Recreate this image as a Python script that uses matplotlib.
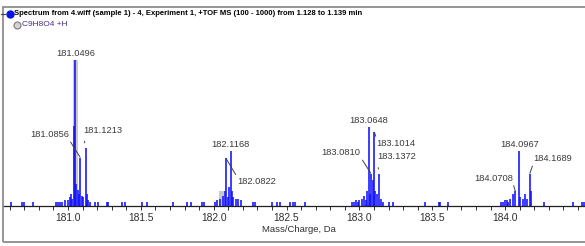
import matplotlib
matplotlib.use("Agg")
import matplotlib.pyplot as plt
from matplotlib.lines import Line2D
from matplotlib.patches import Rectangle

# ---------------- data ----------------
mz = [180.609, 180.684, 180.698, 180.760, 180.918, 180.932, 180.946, 180.962, 180.979,
      181.000, 181.012, 181.022, 181.030, 181.041, 181.0496, 181.058, 181.066, 181.076,
      181.0856, 181.096, 181.106, 181.1213, 181.130, 181.140, 181.151,
      181.185, 181.208, 181.265, 181.272, 181.369, 181.391, 181.506, 181.540, 181.723,
      181.815, 181.842, 181.918, 181.933,
      182.010, 182.025, 182.040, 182.066, 182.075, 182.0822, 182.100, 182.108, 182.1168,
      182.125, 182.135, 182.150, 182.170, 182.190,
      182.272, 182.283, 182.398, 182.432, 182.455, 182.524, 182.546, 182.558, 182.627,
      182.950, 182.965, 182.980,
      182.990, 183.000, 183.015, 183.030, 183.045, 183.055, 183.0648, 183.072, 183.0810,
      183.090, 183.1014, 183.110, 183.120, 183.1372, 183.150, 183.165, 183.200, 183.231,
      183.450, 183.546, 183.556, 183.610, 183.970,
      183.985, 183.998, 184.010, 184.020, 184.035, 184.055, 184.0708, 184.0967, 184.105,
      184.125, 184.138, 184.150, 184.1689, 184.178,
      184.267, 184.468, 184.526, 184.540]
intensity = [3, 3, 3, 3, 3, 3, 3, 3, 4,
             4, 6, 8, 5, 55, 100, 15, 11, 8,
             33, 7, 6, 40, 8, 4, 3,
             3, 3, 3, 3, 3, 3, 3, 3, 3,
             3, 3, 3, 3,
             3, 4, 5, 7, 10, 33, 6, 13, 38,
             10, 6, 5, 5, 4,
             3, 3, 3, 3, 3, 3, 3, 3, 3,
             3, 3, 4,
             3, 4, 5, 7, 4, 10, 54, 8, 22,
             18, 51, 10, 8, 22, 5, 3, 3, 3,
             3, 3, 3, 3, 3,
             3, 4, 4, 3, 5, 8, 10, 38, 6,
             5, 8, 5, 22, 10,
             3, 3, 3, 3]

theo_mz = [181.0495, 182.0529, 183.0557]
theo_int = [100, 10.5, 1.5]

label_mz = [181.0496, 181.0856, 181.1213, 182.1168, 182.0822, 183.0648, 183.1014,
            183.1372, 183.0810, 184.0967, 184.0708, 184.1689]
label_text = ["181.0496", "181.0856", "181.1213", "182.1168", "182.0822", "183.0648",
              "183.1014", "183.1372", "183.0810", "184.0967", "184.0708", "184.1689"]

xticks = [181.0, 181.5, 182.0, 182.5, 183.0, 183.5, 184.0]
xtick_labels = ["181.0", "181.5", "182.0", "182.5", "183.0", "183.5", "184.0"]

legend_title = "Spectrum from 4.wiff (sample 1) - 4, Experiment 1, +TOF MS (100 - 1000) from 1.128 to 1.139 min"
legend_formula = "C9H8O4 +H"
xlabel = "Mass/Charge, Da"

# ---------------- layout ----------------
W, H = 585, 246
fig = plt.figure(figsize=(W / 100, H / 100), dpi=100)
fig.patch.set_facecolor("white")

def fx(px):
    return px / W

def fy(py):
    return 1 - py / H

# outer frame
fig.add_artist(Rectangle((fx(2.5), fy(242)), fx(620), (242 - 7) / H, transform=fig.transFigure,
                         fill=False, edgecolor="#8c8c8c", lw=1.3, clip_on=False))

px_per_da = 145.7
ax_left_px, ax_right_px = 2.5, 597
ax_top_px, ax_bot_px = 40, 206
ax = fig.add_axes([fx(ax_left_px), fy(ax_bot_px), (ax_right_px - ax_left_px) / W,
                   (ax_bot_px - ax_top_px) / H])
ax.patch.set_alpha(0)
x0 = 181.0 - (68 - ax_left_px) / px_per_da
ax.set_xlim(x0, x0 + (ax_right_px - ax_left_px) / px_per_da)
ax.set_ylim(0, 100 * (ax_bot_px - ax_top_px) / 146.0)

for s in ["top", "right", "left"]:
    ax.spines[s].set_visible(False)
ax.spines["bottom"].set_color("#202020")
ax.spines["bottom"].set_linewidth(0.9)
ax.set_yticks([])

ax.set_xticks(xticks)
ax.set_xticklabels(xtick_labels, fontsize=7.4, family="Liberation Sans", color="#303030")
ax.set_xticks([round(181.0 + 0.1 * i - 0.4, 1) for i in range(0, 40)], minor=True)
ax.tick_params(axis="x", which="both", direction="out", length=3, width=0.7,
               color="#303030", pad=2)

# theoretical pattern (gray) and spectrum (blue)
ax.bar(theo_mz, theo_int, width=0.032, color="#c8c8c8", zorder=1, linewidth=0)
ax.vlines(mz, 0, intensity, color="#1010ff", lw=1.15, zorder=2)

# peak labels
lab_style = {
    "181.0496": (0, 2, None),
    "181.0856": (-31, 23, (1, 0)),
    "181.1213": (17, 17, (0, 0)),
    "182.1168": (0, 2, None),
    "182.0822": (31, -24, (0, 1)),
    "183.0648": (0, 2, None),
    "183.1014": (22, -12, (0, 1)),
    "183.1372": (17, 17, (0, 0)),
    "183.0810": (-30, 21, (1, 0)),
    "184.0967": (0, 2, None),
    "184.0708": (-22, 13, (1, 0)),
    "184.1689": (23, 15, (0, 0)),
}
for m, t in zip(label_mz, label_text):
    yv = intensity[mz.index(m)]
    dx, dy, rel = lab_style[t]
    if rel is None:
        ax.annotate(t, xy=(m, yv), xytext=(dx, dy), textcoords="offset pixels",
                    ha="center", va="bottom", fontsize=6.7, family="Liberation Sans",
                    color="#3a3a3a", zorder=4)
    else:
        short = t in ("181.1213", "183.1372")
        ax.annotate(t, xy=(m, yv), xytext=(dx, dy), textcoords="offset pixels",
                    ha="center", va="center", fontsize=6.7, family="Liberation Sans",
                    color="#3a3a3a", zorder=4,
                    arrowprops=dict(arrowstyle="-", color="#404040", lw=0.7,
                                    relpos=rel, shrinkA=2.5 if short else 0,
                                    shrinkB=3.5 if short else 0.5))

# x label
fig.text(fx(299), fy(229), xlabel, ha="center", va="center", fontsize=6.8,
         family="Liberation Sans", color="#303030")

# legend area
fig.add_artist(Line2D([fx(0.5), fx(5)], [fy(13.5), fy(13.5)], transform=fig.transFigure,
                      color="#404040", lw=0.8))
fig.add_artist(Line2D([fx(9.5)], [fy(13.5)], transform=fig.transFigure, marker="o",
                      ms=5.0, color="#0a14e6", mec="#0a14e6"))
fig.text(fx(13.5), fy(13.5), legend_title, ha="left", va="center", fontsize=5.5,
         family="Liberation Sans", weight="bold", color="#000000")
fig.add_artist(Line2D([fx(16.5)], [fy(25)], transform=fig.transFigure, marker="o",
                      ms=5.0, mfc="#d4d4d4", mec="#7a7a7a", mew=0.8))
fig.text(fx(21.5), fy(25), legend_formula, ha="left", va="center", fontsize=6.0,
         family="Liberation Sans", color="#4b2d86")

fig.savefig("out.png", dpi=100)
